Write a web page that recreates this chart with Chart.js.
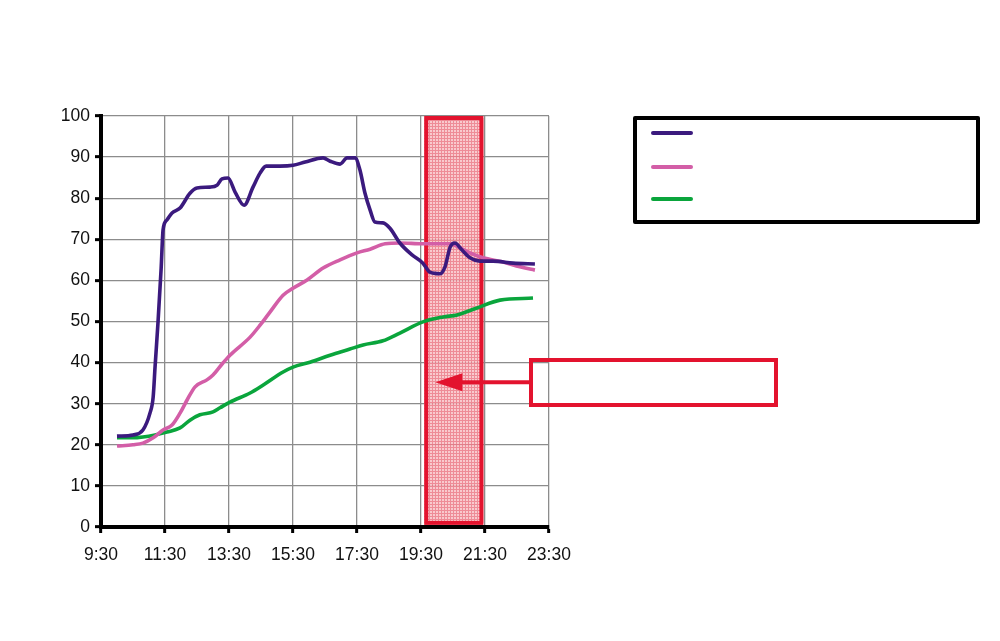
<!DOCTYPE html>
<html>
<head>
<meta charset="utf-8">
<script src="https://cdn.jsdelivr.net/npm/chart.js@4/dist/chart.umd.min.js"></script>
<style>
  html, body { margin: 0; padding: 0; background: #fff; }
  #wrap { width: 1000px; height: 641px; }
</style>
</head>
<body>
<div id="wrap"><canvas id="chart" width="1000" height="641"></canvas></div>
<script>
// x tick labels, every 2 hours
var xTickLabels = ['9:30', '11:30', '13:30', '15:30', '17:30', '19:30', '21:30', '23:30'];

// series 1 (dark purple), time in decimal hours
var purpleTimes = [10.0, 10.5, 10.81, 11.03, 11.13, 11.19, 11.28, 11.38, 11.44, 11.56, 11.72, 11.97,
  12.28, 12.5, 12.91, 13.13, 13.28, 13.47, 13.69, 13.97, 14.25, 14.47, 14.66, 15.09, 15.5, 15.88,
  16.44, 16.66, 16.97, 17.19, 17.44, 17.59, 17.75, 17.91, 18.06, 18.31, 18.53, 18.84, 19.22, 19.56,
  19.78, 20.09, 20.25, 20.41, 20.56, 20.78, 21.03, 21.34, 21.75, 22.38, 23.06];
var purpleValues = [22.1, 22.4, 23.6, 27.7, 31.6, 39, 49.6, 63, 72.3, 74.7, 76.4, 77.6,
  81.2, 82.5, 82.7, 83.2, 84.7, 84.9, 81.5, 78.3, 82.7, 86.1, 87.8, 87.8, 88, 88.8,
  89.8, 89, 88.3, 89.8, 89.8, 86.9, 81.2, 77.1, 74.2, 74, 72.7, 69.1, 66.2, 64.2,
  62, 61.6, 63.3, 68.1, 69.1, 67.4, 65.5, 64.7, 64.7, 64.2, 64];

// series 2 (pink)
var pinkTimes = [10.0, 10.5, 10.81, 11.13, 11.44, 11.72, 11.97, 12.19, 12.44, 12.81, 13.0, 13.31,
  13.53, 14.16, 14.47, 14.78, 15.19, 15.5, 15.94, 16.44, 16.97, 17.5, 17.91, 18.38, 18.84, 19.56,
  20.41, 20.72, 21.03, 21.44, 22.06, 22.59, 23.06];
var pinkValues = [19.7, 20, 20.4, 21.7, 23.6, 24.8, 27.7, 30.9, 34.1, 35.8, 37, 39.9,
  41.8, 46.2, 49.1, 52.3, 56.4, 58.1, 60.1, 63, 65, 66.7, 67.6, 68.9, 69.1, 68.9,
  68.9, 67.9, 66.7, 65.5, 64.5, 63.3, 62.5];

// series 3 (green)
var greenTimes = [10.0, 10.5, 10.81, 11.19, 11.56, 11.97, 12.28, 12.59, 13.0, 13.22, 13.53, 14.16,
  14.56, 15.19, 15.5, 16.03, 16.66, 17.28, 17.69, 18.31, 18.84, 19.56, 20.19, 20.63, 21.25, 21.97, 23.0];
var greenValues = [21.7, 21.7, 21.9, 22.4, 23.1, 24.1, 26, 27.3, 28, 29, 30.4, 32.6,
  34.5, 37.7, 38.9, 40.1, 41.8, 43.3, 44.3, 45.3, 47.2, 49.9, 51.1, 51.6, 53.3, 55.2, 55.7];

// highlighted time window and arrow target (data units)
var highlightFrom = 19.6, highlightTo = 21.45;
var arrowTipTime = 19.95, arrowValue = 35.2;

var colors = { purple: '#3b1a7e', pink: '#d35ea7', green: '#0aa53c', red: '#e3132e' };

function pairs(xs, ys) {
  var out = [];
  for (var i = 0; i < xs.length; i++) out.push({ x: xs[i], y: ys[i] });
  return out;
}

function makePattern(ctx) {
  var c = document.createElement('canvas');
  c.width = 3; c.height = 3;
  var p = c.getContext('2d');
  p.fillStyle = '#f9c3c8';
  p.fillRect(0, 0, 3, 3);
  p.fillStyle = '#ec7d89';
  p.fillRect(0, 0, 3, 1);
  p.fillRect(0, 0, 1, 3);
  return ctx.createPattern(c, 'repeat');
}

var highlightPlugin = {
  id: 'highlight',
  beforeDatasetsDraw: function (chart) {
    var ctx = chart.ctx, xs = chart.scales.x, ys = chart.scales.y;
    var l = xs.getPixelForValue(highlightFrom), r = xs.getPixelForValue(highlightTo);
    var t = ys.getPixelForValue(100) + 2, b = ys.getPixelForValue(1);
    ctx.save();
    ctx.globalAlpha = 0.88;
    ctx.fillStyle = makePattern(ctx);
    ctx.fillRect(l, t, r - l, b - t);
    ctx.globalAlpha = 1;
    ctx.strokeStyle = colors.red;
    ctx.lineWidth = 4;
    ctx.strokeRect(l + 2, t, r - l - 4, b - t);
    ctx.restore();
  },
  afterDraw: function (chart) {
    var ctx = chart.ctx, xs = chart.scales.x, ys = chart.scales.y;
    ctx.save();
    // callout box
    ctx.strokeStyle = colors.red;
    ctx.lineWidth = 4;
    ctx.strokeRect(531, 360, 245, 45);
    // arrow
    var tipX = xs.getPixelForValue(arrowTipTime), y = ys.getPixelForValue(arrowValue);
    ctx.beginPath();
    ctx.moveTo(529, y);
    ctx.lineTo(tipX + 20, y);
    ctx.stroke();
    ctx.fillStyle = colors.red;
    ctx.beginPath();
    ctx.moveTo(tipX, y);
    ctx.lineTo(tipX + 27, y - 9);
    ctx.lineTo(tipX + 27, y + 9);
    ctx.closePath();
    ctx.fill();
    // legend box (no text)
    ctx.strokeStyle = '#000';
    ctx.lineWidth = 4;
    ctx.lineJoin = 'round';
    ctx.strokeRect(635, 118, 343, 104);
    ctx.lineCap = 'round';
    var ly = [133, 167, 199];
    chart.data.datasets.forEach(function (ds, i) {
      ctx.strokeStyle = ds.borderColor;
      ctx.lineWidth = 4;
      ctx.beginPath();
      ctx.moveTo(653, ly[i]);
      ctx.lineTo(691, ly[i]);
      ctx.stroke();
    });
    ctx.restore();
  }
};

var tickFont = { family: '"Liberation Sans", Arial, sans-serif', size: 17.5 };

var config = {
  type: 'line',
  data: {
    datasets: [
      { label: '', data: pairs(purpleTimes, purpleValues), borderColor: colors.purple },
      { label: '', data: pairs(pinkTimes, pinkValues), borderColor: colors.pink },
      { label: '', data: pairs(greenTimes, greenValues), borderColor: colors.green }
    ]
  },
  options: {
    responsive: false,
    animation: false,
    parsing: false,
    elements: {
      line: { borderWidth: 3.6, cubicInterpolationMode: 'monotone', fill: false },
      point: { radius: 0 }
    },
    layout: { padding: { left: 0, top: 116, right: 451, bottom: 64 } },
    plugins: { legend: { display: false }, tooltip: { enabled: false } },
    scales: {
      x: {
        type: 'linear',
        min: 9.5, max: 23.5,
        afterBuildTicks: function (s) {
          s.ticks = xTickLabels.map(function (lab, i) { return { value: 9.5 + 2 * i }; });
        },
        afterFit: function (s) { s.height = 50; },
        ticks: {
          color: '#111', font: tickFont, padding: 12, maxRotation: 0,
          callback: function (v, i) { return xTickLabels[i]; }
        },
        grid: { color: '#8c8c8c', lineWidth: 1.3, tickColor: '#000', tickWidth: 3, tickLength: 6 },
        border: { color: '#000', width: 4 }
      },
      y: {
        min: 0, max: 100,
        afterFit: function (s) { s.width = 101; },
        ticks: { stepSize: 10, color: '#111', font: tickFont, padding: 5 },
        grid: { color: '#8c8c8c', lineWidth: 1.3, tickColor: '#000', tickWidth: 3, tickLength: 6 },
        border: { color: '#000', width: 4 }
      }
    }
  },
  plugins: [highlightPlugin]
};

var el = document.getElementById('chart');
window.myLine = new Chart(el, config);
</script>
</body>
</html>
